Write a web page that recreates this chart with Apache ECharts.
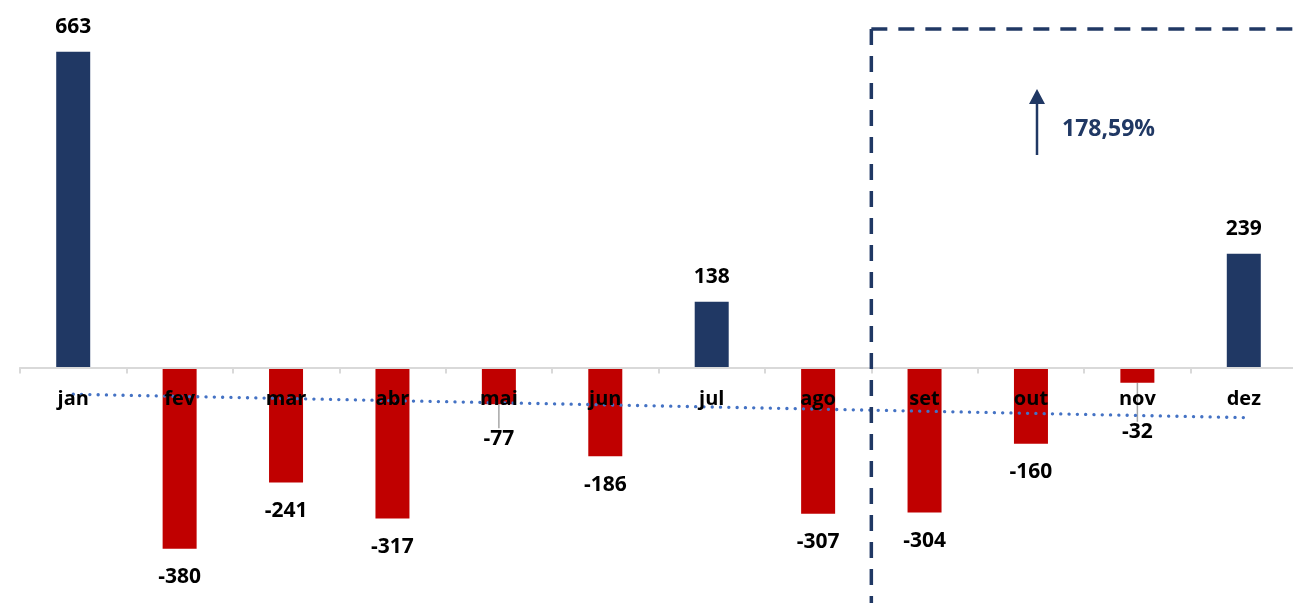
<!DOCTYPE html>
<html>
<head>
<meta charset="utf-8">
<script src="https://cdn.jsdelivr.net/npm/echarts@6/dist/echarts.min.js"></script>
<style>
html,body{margin:0;padding:0;background:#fff;}
#c{width:1293px;height:603px;}
</style>
</head>
<body>
<div id="c"></div>
<script>
const categories = ['jan','fev','mar','abr','mai','jun','jul','ago','set','out','nov','dez'];
const values = [663, -380, -241, -317, -77, -186, 138, -307, -304, -160, -32, 239];
// linear trendline endpoints
const trendStart = -56;
const trendEnd = -105;
const annotationText = '178,59%';

const NAVY = '#203864';
const RED = '#c00000';
const FONT = '"Open Sans", "Noto Sans", sans-serif';

const Y_MIN = -450, Y_MAX = 700;
const GRID_TOP = 34, GRID_H = 548;
const zeroOffset = GRID_H * (0 - Y_MIN) / (Y_MAX - Y_MIN);

const chart = echarts.init(document.getElementById('c'), null, {renderer: 'canvas'});

const barData = values.map((v, i) => {
  const item = {value: v, itemStyle: {color: v >= 0 ? NAVY : RED}};
  const label = {position: v >= 0 ? 'top' : 'bottom', distance: v >= 0 ? 14 : 18};
  if (categories[i] === 'mai') { label.distance = 24; item.labelLine = {show: true}; }
  if (categories[i] === 'nov') { label.distance = 39; item.labelLine = {show: true}; }
  item.label = label;
  return item;
});

chart.setOption({
  animation: false,
  backgroundColor: '#ffffff',
  grid: {left: 20, top: GRID_TOP, width: 1277, height: GRID_H, containLabel: false, outerBoundsMode: 'none'},
  xAxis: {
    type: 'category',
    data: categories,
    boundaryGap: true,
    position: 'bottom',
    offset: -zeroOffset,
    axisLine: {show: true, onZero: false, lineStyle: {color: '#d9d9d9', width: 2}},
    axisTick: {show: true, length: 6, lineStyle: {color: '#d9d9d9', width: 2}},
    axisLabel: {color: '#000', fontWeight: 'bold', fontSize: 20, fontFamily: FONT, margin: 22},
    splitLine: {show: false},
    z: 5
  },
  yAxis: {
    type: 'value',
    min: Y_MIN,
    max: Y_MAX,
    show: false,
    splitLine: {show: false}
  },
  series: [
    {
      type: 'bar',
      data: barData,
      barWidth: 34,
      label: {
        show: true,
        color: '#000',
        fontWeight: 'bold',
        fontSize: 21,
        fontFamily: FONT
      },
      labelLine: {show: false, lineStyle: {color: '#a6a6a6', width: 1.5}},
      z: 2
    },
    {
      type: 'line',
      data: [[categories[0], trendStart], [categories[categories.length - 1], trendEnd]],
      symbol: 'none',
      silent: true,
      lineStyle: {color: '#4472c4', width: 3.3, type: [0.1, 8.2], cap: 'round'},
      z: 3
    }
  ]
});

// annotation: dashed box boundary between 'ago' and 'set', arrow and percentage
const pAgo = chart.convertToPixel({xAxisIndex: 0}, 'ago');
const pSet = chart.convertToPixel({xAxisIndex: 0}, 'set');
const boxX = (pAgo + pSet) / 2;
const boxY = 29;
const dash = {stroke: NAVY, lineWidth: 3.5, lineDash: [16, 11]};
chart.setOption({
  graphic: [
    {type: 'line', shape: {x1: boxX, y1: boxY, x2: 1300, y2: boxY}, style: dash, z: 10},
    {type: 'line', shape: {x1: boxX, y1: boxY, x2: boxX, y2: 610}, style: dash, z: 10},
    {type: 'line', shape: {x1: 1037, y1: 155, x2: 1037, y2: 102}, style: {stroke: NAVY, lineWidth: 2.5}, z: 10},
    {type: 'polygon', shape: {points: [[1029, 104], [1045, 104], [1037, 89]]}, style: {fill: NAVY}, z: 10},
    {type: 'text', x: 1062, y: 129, style: {text: annotationText, fill: NAVY, font: 'bold 23px ' + FONT, verticalAlign: 'middle', textAlign: 'left'}, z: 10}
  ]
});
</script>
</body>
</html>
